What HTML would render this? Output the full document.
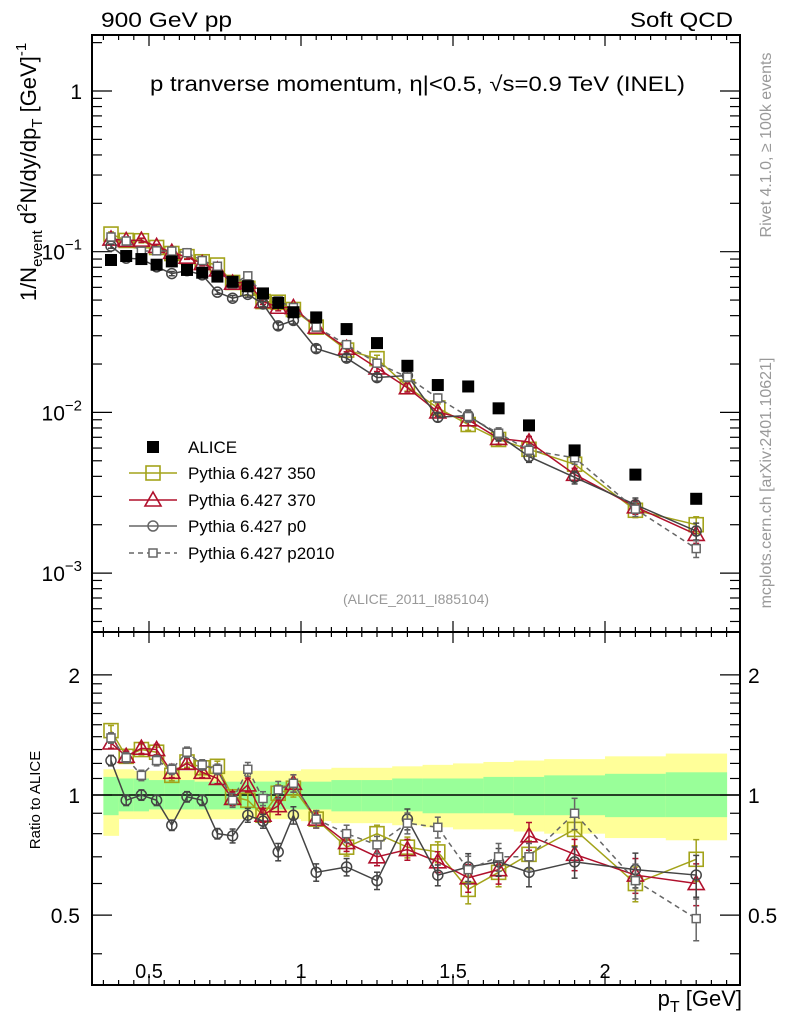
<!DOCTYPE html>
<html><head><meta charset="utf-8"><style>
html,body{margin:0;padding:0;background:#fff}
svg{display:block;font-family:"Liberation Sans",sans-serif}
</style></head><body>
<svg id="c" width="786" height="1024" viewBox="0 0 786 1024" xmlns="http://www.w3.org/2000/svg"></svg>
<script>
const xVals=[0.375,0.425,0.475,0.525,0.575,0.625,0.675,0.725,0.775,0.825,0.875,0.925,0.975,1.05,1.15,1.25,1.35,1.45,1.55,1.65,1.75,1.9,2.1,2.3];
const binEdges=[0.35,0.4,0.45,0.5,0.55,0.6,0.65,0.7,0.75,0.8,0.85,0.9,0.95,1.0,1.1,1.2,1.3,1.4,1.5,1.6,1.7,1.8,2.0,2.2,2.4];
const alice=[0.0888,0.094,0.090,0.083,0.087,0.077,0.074,0.070,0.065,0.061,0.055,0.048,0.042,0.039,0.033,0.027,0.0195,0.0148,0.0145,0.0106,0.0083,0.0058,0.0041,0.0029];
const ratio350=[1.45,1.25,1.30,1.28,1.12,1.21,1.17,1.18,0.99,0.97,0.89,1.01,1.04,0.87,0.74,0.80,0.74,0.72,0.58,0.64,0.71,0.82,0.60,0.69];
const ratio370=[1.35,1.25,1.31,1.30,1.14,1.20,1.14,1.10,0.98,1.06,0.89,0.94,1.07,0.87,0.76,0.70,0.73,0.68,0.62,0.65,0.79,0.71,0.63,0.60];
const ratioP0=[1.22,0.97,1.00,0.97,0.84,0.99,0.97,0.80,0.79,0.89,0.86,0.72,0.89,0.64,0.66,0.61,0.87,0.63,0.66,0.68,0.64,0.68,0.65,0.63];
const ratioP2010=[1.39,1.24,1.12,1.22,1.16,1.28,1.19,1.16,0.97,1.16,0.98,1.03,1.07,0.87,0.80,0.75,0.85,0.83,0.65,0.70,0.70,0.90,0.61,0.49];
const relErr=[0.03,0.03,0.03,0.03,0.03,0.03,0.03,0.03,0.04,0.04,0.04,0.05,0.05,0.05,0.05,0.05,0.06,0.06,0.08,0.08,0.08,0.09,0.1,0.12];
const yelHi=[1.16,1.16,1.15,1.15,1.15,1.15,1.15,1.15,1.15,1.15,1.15,1.15,1.15,1.16,1.17,1.17,1.18,1.19,1.20,1.21,1.22,1.23,1.25,1.27];
const yelLo=[0.79,0.87,0.87,0.87,0.87,0.87,0.87,0.87,0.87,0.87,0.87,0.87,0.87,0.86,0.85,0.85,0.84,0.83,0.82,0.82,0.81,0.80,0.78,0.77];
const grnHi=[1.11,1.10,1.10,1.09,1.09,1.09,1.08,1.08,1.08,1.08,1.08,1.08,1.08,1.08,1.09,1.09,1.10,1.10,1.10,1.11,1.11,1.12,1.13,1.14];
const grnLo=[0.89,0.91,0.91,0.92,0.92,0.92,0.92,0.92,0.92,0.92,0.92,0.92,0.92,0.92,0.91,0.91,0.91,0.90,0.90,0.90,0.89,0.89,0.88,0.88];
const mainTicks=[1,0.1,0.01,0.001];
const ratioTicks=[0.5,1,2];
const xTicks=[0.5,1,1.5,2];

const NS='http://www.w3.org/2000/svg';
const svg=document.getElementById('c');
const L=92,R=740,T=35,M=632,B=985;
const X=v=>-3+304*v;
const Y=v=>91-160.7*Math.log10(v);
const YR=v=>795-399*Math.log10(v);
function el(tag,attrs,parent){const e=document.createElementNS(NS,tag);for(const k in attrs)e.setAttribute(k,attrs[k]);(parent||svg).appendChild(e);return e;}

const bands=el('g',{});


for(let i=0;i<xVals.length;i++){
  const x0=X(binEdges[i]),x1=X(binEdges[i+1]);
  el('rect',{x:x0,y:YR(yelHi[i]),width:x1-x0+0.5,height:YR(yelLo[i])-YR(yelHi[i]),fill:'#ffff99'},bands);
  el('rect',{x:x0,y:YR(grnHi[i]),width:x1-x0+0.5,height:YR(grnLo[i])-YR(grnHi[i]),fill:'#99ff99'},bands);
}
el('line',{x1:L,x2:R,y1:YR(1),y2:YR(1),stroke:'#000','stroke-width':1.5});

const f1=el('rect',{x:L,y:T,width:R-L,height:M-T,fill:'none',stroke:'#000','stroke-width':2});

const f2=el('rect',{x:L,y:M,width:R-L,height:B-M,fill:'none',stroke:'#000','stroke-width':2});


for(let k=7;k<=48;k++){
  const v=k*0.05;const x=X(v);if(x<L||x>R)continue;
  const len=(k%10===0)?11:5;
  for(const [top,bot] of [[T,M],[M,B]]){
    el('line',{x1:x,x2:x,y1:top,y2:top+len,stroke:'#000','stroke-width':1.2});
    el('line',{x1:x,x2:x,y1:bot,y2:bot-len,stroke:'#000','stroke-width':1.2});
  }
}
xTicks.forEach(v=>{
  const t=el('text',{x:X(v),y:978,'font-size':20,'text-anchor':'middle'});t.textContent=String(v);
  
});

for(let d=-4;d<=0;d++){
  for(let m=1;m<=9;m++){
    const v=m*Math.pow(10,d);const y=Y(v);
    if(y<T||y>M)continue;
    const len=m==1?20:10;
    el('line',{x1:L,x2:L+len,y1:y,y2:y,stroke:'#000','stroke-width':1.2});
    el('line',{x1:R,x2:R-len,y1:y,y2:y,stroke:'#000','stroke-width':1.2});
  }
}
const mainLbl=['1','10','10','10'],mainExp=['','−1','−2','−3'];
mainTicks.forEach((v,i)=>{
  const t=el('text',{x:82,y:Y(v)+8,'font-size':21,'text-anchor':'end'});
  t.textContent=mainLbl[i];
  if(mainExp[i]){const s=el('tspan',{dy:-10,'font-size':15},t);s.textContent=mainExp[i];}
  
});
for(let v=0.4;v<=2.5;v+=(v<2-1e-9?0.1:0.5)){
  const y=YR(v);if(y<M||y>B)continue;
  const major=[0.5,1,2].some(m=>Math.abs(m-v)<1e-6);
  const len=major?20:10;
  el('line',{x1:L,x2:L+len,y1:y,y2:y,stroke:'#000','stroke-width':1.2});
  el('line',{x1:R,x2:R-len,y1:y,y2:y,stroke:'#000','stroke-width':1.2});
}
ratioTicks.forEach(v=>{
  const t1=el('text',{x:80,y:YR(v)+8,'font-size':21,'text-anchor':'end'});t1.textContent=String(v);
  
  const t2=el('text',{x:748,y:YR(v)+8,'font-size':21});t2.textContent=String(v);
  
});

function marker(g,type,x,y,color){
  if(type==='fsq')el('rect',{x:x-6,y:y-6,width:12,height:12,fill:'#000'},g);
  else if(type==='sq')el('rect',{x:x-7,y:y-7,width:14,height:14,fill:'none',stroke:color,'stroke-width':1.6},g);
  else if(type==='tri')el('polygon',{points:`${x},${y-8} ${x-8},${y+6} ${x+8},${y+6}`,fill:'none',stroke:color,'stroke-width':1.6},g);
  else if(type==='circ')el('circle',{cx:x,cy:y,r:5,fill:'none',stroke:color,'stroke-width':1.5},g);
  else if(type==='ssq')el('rect',{x:x-4,y:y-4,width:8,height:8,fill:'#fff',stroke:color,'stroke-width':1.5},g);
}
const series=[
  {name:'pythia-350',ratio:ratio350,color:'#a3a31a',type:'sq',dash:''},
  {name:'pythia-370',ratio:ratio370,color:'#b0102c',type:'tri',dash:''},
  {name:'pythia-p0',ratio:ratioP0,color:'#444444',type:'circ',dash:''},
  {name:'pythia-p2010',ratio:ratioP2010,color:'#666666',type:'ssq',dash:'5,4'},
];
series.forEach(s=>{
  ['main','ratio'].forEach(panel=>{
    const g=el('g',{});
    
    
    const ys=xVals.map((x,i)=>panel==='main'?Y(alice[i]*s.ratio[i]):YR(s.ratio[i]));
    const pts=xVals.map((x,i)=>X(x)+','+ys[i]).join(' ');
    el('polyline',{points:pts,fill:'none',stroke:s.color,'stroke-width':1.5,'stroke-dasharray':s.dash},g);
    xVals.forEach((x,i)=>{
      const v=panel==='main'?alice[i]*s.ratio[i]:s.ratio[i];
      const f=panel==='main'?Y:YR;
      const y1=f(v*(1+relErr[i])),y2=f(v*(1-relErr[i]));
      el('line',{x1:X(x),x2:X(x),y1:y1,y2:y2,stroke:s.color,'stroke-width':1.5},g);
      el('line',{x1:X(x)-3,x2:X(x)+3,y1:y1,y2:y1,stroke:s.color,'stroke-width':1.5},g);
      el('line',{x1:X(x)-3,x2:X(x)+3,y1:y2,y2:y2,stroke:s.color,'stroke-width':1.5},g);
      marker(g,s.type,X(x),ys[i],s.color);
    });
  });
});
const ga=el('g',{});


xVals.forEach((x,i)=>marker(ga,'fsq',X(x),Y(alice[i]),'#000'));

const leg=[
  {label:'ALICE',type:'fsq',color:'#000',dash:null},
  {label:'Pythia 6.427 350',type:'sq',color:'#a3a31a',dash:''},
  {label:'Pythia 6.427 370',type:'tri',color:'#b0102c',dash:''},
  {label:'Pythia 6.427 p0',type:'circ',color:'#666',dash:''},
  {label:'Pythia 6.427 p2010',type:'ssq',color:'#666',dash:'5,4'},
];
const legY=[447,473,500,526,553];
leg.forEach((e,i)=>{
  const g=el('g',{});
  
  
  if(e.dash!==null)el('line',{x1:129,x2:177,y1:legY[i],y2:legY[i],stroke:e.color,'stroke-width':1.5,'stroke-dasharray':e.dash},g);
  if(e.type==='fsq')el('rect',{x:147,y:legY[i]-6,width:12,height:12,fill:'#000'},g);
  else marker(g,e.type,153,legY[i],e.color);
  const t=el('text',{x:188,y:legY[i]+6,'font-size':17},g);t.textContent=e.label;
});

function txt(name,attrs,content){const t=el('text',attrs);t.textContent=content;return t;}
txt('header-left',{x:101,y:27,'font-size':21,textLength:131,lengthAdjust:'spacingAndGlyphs'},'900 GeV pp');
txt('header-right',{x:630,y:27,'font-size':21,textLength:103,lengthAdjust:'spacingAndGlyphs'},'Soft QCD');
txt('plot-title',{x:150,y:91,'font-size':21,textLength:535,lengthAdjust:'spacingAndGlyphs'},'p tranverse momentum, η|<0.5, √s=0.9 TeV (INEL)');
txt('analysis-id',{x:416,y:604,'font-size':14,'text-anchor':'middle',fill:'#999'},'(ALICE_2011_I885104)');
const yt=txt('y-axis-title',{transform:'translate(36,172) rotate(-90)','font-size':22,'text-anchor':'middle'},'');
yt.innerHTML='1/N<tspan dy="6" font-size="15">event</tspan><tspan dy="-6"> d</tspan><tspan dy="-9" font-size="15">2</tspan><tspan dy="9">N/dy/dp</tspan><tspan dy="6" font-size="15">T</tspan><tspan dy="-6">  [GeV]</tspan><tspan dy="-10" font-size="15">-1</tspan>';
txt('ratio-axis-title',{transform:'translate(40,800) rotate(-90)','font-size':15,'text-anchor':'middle'},'Ratio to ALICE');
const xt=txt('x-axis-title',{x:742,y:1006,'font-size':22,'text-anchor':'end'},'');
xt.innerHTML='p<tspan dy="6" font-size="16">T</tspan><tspan dy="-6"> [GeV]</tspan>';
txt('rivet-version',{transform:'translate(771,145) rotate(-90)','font-size':16,'text-anchor':'middle',fill:'#999'},'Rivet 4.1.0, ≥ 100k events');
txt('mcplots-credit',{transform:'translate(771,483) rotate(-90)','font-size':16,'text-anchor':'middle',fill:'#999'},'mcplots.cern.ch [arXiv:2401.10621]');
</script>
</body></html>
